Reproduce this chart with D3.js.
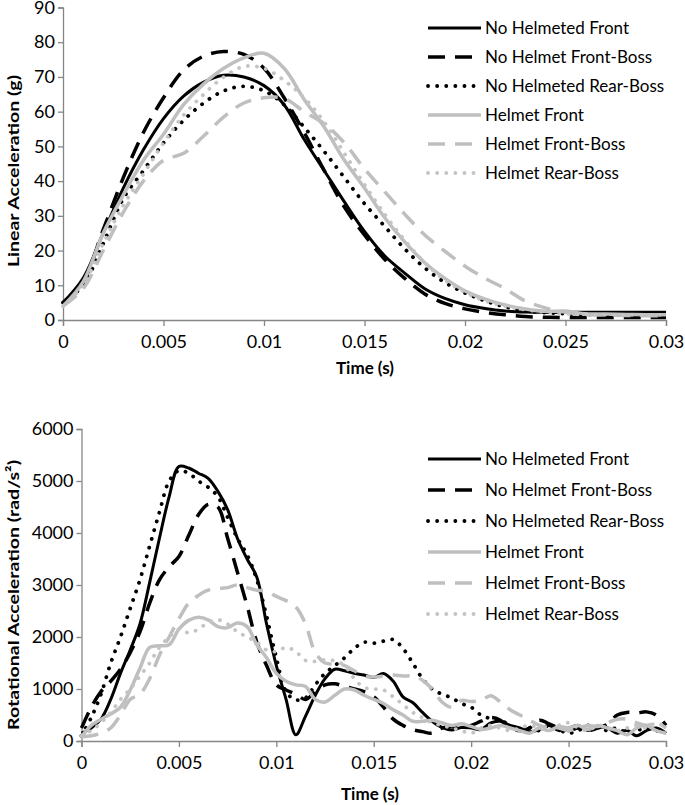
<!DOCTYPE html>
<html>
<head>
<meta charset="utf-8">
<script src="https://cdn.jsdelivr.net/npm/d3@7"></script>
<style>
  body { margin: 0; background: #fff; }
  text { font-family: Lato, "Open Sans", sans-serif; fill: #000; }
</style>
</head>
<body>
<svg id="chart" width="685" height="805"></svg>
<script>
// series names (legend order = drawing order)
const seriesNames = ['No Helmeted Front', 'No Helmet Front-Boss', 'No Helmeted Rear-Boss',
                     'Helmet Front', 'Helmet Front-Boss', 'Helmet Rear-Boss'];

// ---- top chart: linear acceleration (g), sampled every 1 ms
const timeLin = [0, 0.001, 0.002, 0.003, 0.004, 0.005, 0.006, 0.007, 0.008, 0.009, 0.010,
  0.011, 0.012, 0.013, 0.014, 0.015, 0.016, 0.017, 0.018, 0.019, 0.020,
  0.021, 0.022, 0.023, 0.024, 0.025, 0.026, 0.027, 0.028, 0.029, 0.030];
const linNoHelmFront = [5, 12, 25, 38, 49, 58, 64.5, 68.5, 70.5, 70, 67.5,
  62, 52, 43, 34, 25.5, 18.5, 13.5, 9, 6.2, 4.4, 3.3, 2.6, 2.3, 2.2, 2.2, 2.2, 2.2, 2.2, 2.2, 2.2];
const linNoHelmFrontBoss = [5, 11, 26, 41, 54, 64, 72, 76, 77.3, 76.5, 72.5,
  64, 54, 43, 32.5, 24.5, 17.5, 12, 7.5, 4.8, 3.2, 2.2, 1.5, 1, 0.8, 0.7, 0.7, 0.7, 0.7, 0.7, 0.7];
const linNoHelmRearBoss = [5, 10, 22, 35, 43, 51, 57.5, 62.5, 66, 67.3, 66,
  62, 55.5, 48.5, 41, 33.5, 27, 20.5, 15, 10.8, 7.8, 5.5, 3.8, 2.7, 2.1, 1.8, 1.6, 1.5, 1.5, 1.5, 1.5];
const linHelmFront = [4, 11, 25, 36, 46, 53.5, 62, 68, 72.5, 75.5, 76.8,
  72.5, 63.5, 55.5, 46, 38, 29.5, 22.5, 16.5, 12, 8.4, 6, 4.3, 3.2, 2.5, 2.6, 1.8, 1.7, 1.6, 1.5, 1.5];
const linHelmFrontBoss = [4, 9, 20, 31, 40, 46, 48, 53, 58.5, 62.5, 64,
  63.8, 60, 56.5, 51, 43.5, 37, 30.5, 24.5, 19.8, 15.5, 12, 9, 5.5, 3.5, 2.2, 1.6, 1.4, 1.3, 1.2, 1.2];
const linHelmRearBoss = [4, 10, 22, 33, 42, 51, 59, 65, 70, 73, 72.5,
  69, 64, 57, 48, 39, 30.5, 23, 16.5, 11.5, 8, 5.5, 4, 3, 2.3, 1.8, 1.6, 1.5, 1.5, 1.5, 1.5];
const linTicks = [0, 10, 20, 30, 40, 50, 60, 70, 80, 90];

// ---- bottom chart: rotational acceleration (rad/s^2), sampled every 0.5 ms
const timeRot = [0, 0.0005, 0.001, 0.0015, 0.002, 0.0025, 0.003, 0.0035, 0.004, 0.0045,
  0.005, 0.0055, 0.006, 0.0065, 0.007, 0.0075, 0.008, 0.0085, 0.009, 0.0095,
  0.010, 0.0105, 0.011, 0.0115, 0.012, 0.0125, 0.013, 0.0135, 0.014, 0.0145,
  0.015, 0.0155, 0.016, 0.0165, 0.017, 0.0175, 0.018, 0.0185, 0.019, 0.0195,
  0.020, 0.0205, 0.021, 0.0215, 0.022, 0.0225, 0.023, 0.0235, 0.024, 0.0245,
  0.025, 0.0255, 0.026, 0.0265, 0.027, 0.0275, 0.028, 0.0285, 0.029, 0.0295, 0.030];
const rotNoHelmFront = [150, 250, 420, 800, 1300, 1750, 2250, 3050, 3900, 4700,
  5280, 5250, 5150, 5050, 4800, 4450, 3900, 3500, 3150, 2250,
  1450, 800, 120, 480, 880, 1200, 1380, 1350, 1300, 1270,
  1220, 1300, 1150, 850, 740, 550, 380, 260, 210, 260,
  250, 220, 350, 380, 300, 250, 180, 220, 300, 200,
  250, 300, 200, 280, 250, 150, 200, 100, 200, 250, 150];
const rotNoHelmFrontBoss = [250, 650, 950, 1150, 1380, 1700, 2100, 2650, 3100, 3350,
  3550, 3950, 4350, 4550, 4500, 3900, 3250, 2600, 1900, 1450,
  1080, 980, 900, 800, 950, 1080, 1100, 1050, 1000, 950,
  850, 650, 420, 300, 220, 180, 150, 250, 280, 250,
  300, 380, 450, 400, 250, 200, 250, 400, 330, 250,
  200, 250, 200, 250, 320, 500, 550, 540, 560, 500, 300];
const rotNoHelmRearBoss = [100, 450, 900, 1500, 2000, 2550, 3100, 3750, 4400, 5000,
  5200, 5150, 5000, 4880, 4700, 4300, 3900, 3580, 3100, 2400,
  1600, 950, 790, 830, 1080, 1300, 1450, 1600, 1780, 1900,
  1880, 1920, 1950, 1780, 1500, 1200, 1000, 900, 830, 720,
  650, 500, 430, 400, 300, 200, 250, 200, 300, 220,
  150, 200, 300, 250, 200, 250, 150, 200, 250, 200, 150];
const rotHelmFront = [80, 300, 420, 520, 650, 980, 1400, 1800, 1830, 1850,
  2150, 2320, 2380, 2330, 2200, 2180, 2270, 2200, 1850, 1600,
  1300, 1150, 1080, 1050, 800, 750, 880, 1000, 980, 880,
  800, 720, 600, 500, 380, 380, 400, 350, 300, 330,
  280, 220, 250, 300, 250, 200, 150, 250, 200, 280,
  250, 300, 220, 300, 250, 200, 120, 250, 300, 200, 150];
const rotHelmFrontBoss = [80, 100, 150, 250, 500, 800, 900, 1200, 1650, 2000,
  2350, 2650, 2800, 2900, 2930, 2950, 3000, 2950, 2900, 2880,
  2780, 2700, 2580, 2250, 1700, 1500, 1480, 1450, 1350, 1250,
  1230, 1250, 1270, 1250, 1250, 1170, 1000, 750, 650, 780,
  760, 780, 870, 750, 600, 500, 400, 300, 260, 250,
  200, 250, 300, 280, 350, 420, 420, 350, 300, 350, 250];
const rotHelmRearBoss = [100, 200, 350, 550, 800, 1000, 1250, 1500, 1800, 2000,
  2150, 2080, 2150, 2280, 2330, 2250, 2100, 2000, 1900, 1750,
  1720, 1800, 1720, 1550, 1530, 1560, 1540, 1450, 1200, 1030,
  1000, 980, 850, 700, 550, 450, 350, 300, 250, 200,
  150, 250, 300, 250, 200, 250, 300, 250, 200, 300,
  350, 250, 200, 300, 250, 200, 250, 300, 250, 350, 250];
const rotTicks = [0, 1000, 2000, 3000, 4000, 5000, 6000];

const timeTicks = [0, 0.005, 0.01, 0.015, 0.02, 0.025, 0.03];
const timeTickLabels = ['0', '0.005', '0.01', '0.015', '0.02', '0.025', '0.03'];

// line styles per series
const styles = [
  { color: '#000000', width: 3,   dash: null,    cap: 'butt' },
  { color: '#000000', width: 3.5, dash: '17,10', cap: 'butt' },
  { color: '#000000', width: 3.8, dash: '0.1,9', cap: 'round' },
  { color: '#bfbfbf', width: 3.5, dash: null,    cap: 'butt' },
  { color: '#bfbfbf', width: 3.5, dash: '17,10', cap: 'butt' },
  { color: '#c4c4c4', width: 3.8, dash: '0.1,9', cap: 'round' }
];

const svg = d3.select('#chart');
const axisColor = '#868686';

function drawChart(cfg) {
  const x = d3.scaleLinear().domain([0, 0.03]).range([cfg.left, cfg.right]);
  const y = d3.scaleLinear().domain([0, cfg.yMax]).range([cfg.bottom, cfg.top]);
  const g = svg.append('g');

  // y axis
  const yAxis = g.append('g')
    .attr('transform', `translate(${cfg.left},0)`)
    .call(d3.axisLeft(y).tickValues(cfg.yTicks).tickSize(5).tickPadding(3).tickFormat(d3.format('d')));
  // x axis
  const xAxis = g.append('g')
    .attr('transform', `translate(0,${cfg.bottom})`)
    .call(d3.axisBottom(x).tickValues(timeTicks).tickSize(6).tickPadding(9)
      .tickFormat((d, i) => timeTickLabels[i]));

  [yAxis, xAxis].forEach(a => {
    a.select('.domain').attr('stroke', axisColor).attr('stroke-width', 1.3);
    a.selectAll('.tick line').attr('stroke', axisColor).attr('stroke-width', 1.3);
    a.selectAll('.tick text').style('font-size', '18px').attr('fill', '#000');
  });

  g.append('text')
    .attr('x', cfg.timeX).attr('y', cfg.bottom + cfg.timeDy)
    .attr('text-anchor', 'middle').style('font-size', '17px').style('font-weight', 'bold')
    .text('Time (s)');

  g.append('text')
    .attr('transform', `translate(19,${cfg.yTitleY}) rotate(-90)`)
    .attr('text-anchor', 'middle').style('font-size', '16px').style('font-weight', 'bold')
    .attr('textLength', cfg.yTitleLen).attr('lengthAdjust', 'spacingAndGlyphs')
    .text(cfg.yTitle);

  const line = d3.line()
    .x(d => x(d[0])).y(d => y(d[1]))
    .curve(d3.curveCatmullRom.alpha(0.5));

  cfg.series.forEach((vals, i) => {
    const s = styles[i];
    g.append('path')
      .datum(cfg.time.map((t, k) => [t, vals[k]]))
      .attr('d', line)
      .attr('fill', 'none')
      .attr('stroke', s.color)
      .attr('stroke-width', s.width)
      .attr('stroke-dasharray', s.dash)
      .attr('stroke-linecap', s.cap)
      .attr('stroke-linejoin', 'round');
  });

  // legend
  const lg = g.append('g');
  seriesNames.forEach((name, i) => {
    const s = styles[i];
    const yy = cfg.legendY + i * cfg.legendStep;
    lg.append('line')
      .attr('x1', 428).attr('x2', 481).attr('y1', yy).attr('y2', yy)
      .attr('stroke', s.color).attr('stroke-width', s.width)
      .attr('stroke-dasharray', s.dash).attr('stroke-linecap', s.cap);
    lg.append('text')
      .attr('x', 485).attr('y', yy).attr('dy', '0.35em')
      .style('font-size', '17px').text(name);
  });
}

drawChart({
  left: 63, right: 666, top: 7.5, bottom: 320, yMax: 90, yTicks: linTicks,
  time: timeLin,
  series: [linNoHelmFront, linNoHelmFrontBoss, linNoHelmRearBoss, linHelmFront, linHelmFrontBoss, linHelmRearBoss],
  yTitleY: 171, yTitleLen: 192, yTitle: 'Linear Acceleration (g)',
  timeX: 365, timeDy: 54,
  legendY: 28, legendStep: 29
});

drawChart({
  left: 81.5, right: 666, top: 429, bottom: 741, yMax: 6000, yTicks: rotTicks,
  time: timeRot,
  series: [rotNoHelmFront, rotNoHelmFrontBoss, rotNoHelmRearBoss, rotHelmFront, rotHelmFrontBoss, rotHelmRearBoss],
  yTitleY: 595, yTitleLen: 270, yTitle: 'Rotational Acceleration (rad/s\u00b2)',
  timeX: 370, timeDy: 59,
  legendY: 459, legendStep: 31
});
</script>
</body>
</html>
